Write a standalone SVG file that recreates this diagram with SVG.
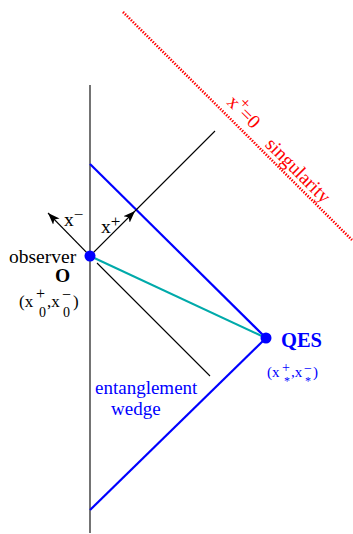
<svg xmlns="http://www.w3.org/2000/svg" width="353" height="534" viewBox="0 0 353 534">
<defs>
<marker id="ah" viewBox="0 0 12 10" refX="12" refY="5" markerWidth="12" markerHeight="10" markerUnits="userSpaceOnUse" orient="auto">
<path d="M0,0.5 L12,5 L0,9.5 L3,5 Z" fill="#000"/>
</marker>
</defs>
<style>
text{font-family:"Liberation Serif","Times New Roman",serif;}
.k{stroke:#000;stroke-width:1.1;fill:none;}
.b{stroke:#0000ff;stroke-width:2.2;fill:none;}
.lbl{font-size:19.5px;fill:#000;}
.blbl{font-size:19px;fill:#0000ff;}
</style>
<rect width="353" height="534" fill="#fff"/>
<g id="connectors">
<line class="k" x1="90" y1="85" x2="90" y2="533"/>
<line class="b" x1="90" y1="164" x2="266" y2="338"/>
<line class="b" x1="266" y1="338" x2="90" y2="510"/>
<line x1="90" y1="256" x2="266" y2="338" stroke="#00aaaa" stroke-width="2"/>
<line class="k" x1="90" y1="256" x2="135" y2="211" marker-end="url(#ah)"/>
<line class="k" x1="135" y1="211" x2="215" y2="131"/>
<line class="k" x1="90" y1="256" x2="48" y2="213" marker-end="url(#ah)"/>
<line class="k" x1="97" y1="263" x2="210" y2="376"/>
<line x1="123" y1="12" x2="352" y2="240" stroke="#ff0000" stroke-width="2.6" stroke-dasharray="1.4,1.4"/>
</g>
<g id="singularity">
<text transform="translate(226,103) rotate(45)" font-size="19.5" fill="#ff0000"><tspan x="0" y="0">x</tspan><tspan x="9" y="-8" font-size="17">+</tspan><tspan x="17" y="0">=0</tspan><tspan x="57" y="3">singularity</tspan></text>
</g>
<g id="axes-labels">
<text class="lbl" x="64" y="226">x<tspan font-size="17" dy="-6">−</tspan></text>
<text class="lbl" x="101" y="233">x<tspan font-size="17" dy="-6">+</tspan></text>
</g>
<g id="observer">
<circle cx="90" cy="256" r="5.5" fill="#0000ff"/>
<text class="lbl" x="9" y="263">observer</text>
<text class="lbl" x="55" y="282" font-weight="bold">O</text>
<text font-size="17" fill="#000"><tspan x="19" y="307">(x</tspan><tspan x="36" y="299" font-size="16">+</tspan><tspan x="39" y="317" font-size="14">0</tspan><tspan x="47" y="307">,x</tspan><tspan x="62" y="300" font-size="16">−</tspan><tspan x="63" y="317" font-size="14">0</tspan><tspan x="73" y="307">)</tspan></text>
</g>
<g id="qes">
<circle cx="266" cy="338" r="5.5" fill="#0000ff"/>
<text x="281" y="347" font-size="20.5" font-weight="bold" fill="#0000ff">QES</text>
<text font-size="15" fill="#0000ff"><tspan x="267" y="377">(x</tspan><tspan x="282" y="372" font-size="14">+</tspan><tspan x="284" y="385" font-size="12">*</tspan><tspan x="291" y="377">,x</tspan><tspan x="304" y="373" font-size="14">−</tspan><tspan x="305" y="385" font-size="12">*</tspan><tspan x="313" y="377">)</tspan></text>
</g>
<g id="wedge">
<text class="blbl" x="95" y="394">entanglement</text>
<text class="blbl" x="111" y="415">wedge</text>
</g>
</svg>
